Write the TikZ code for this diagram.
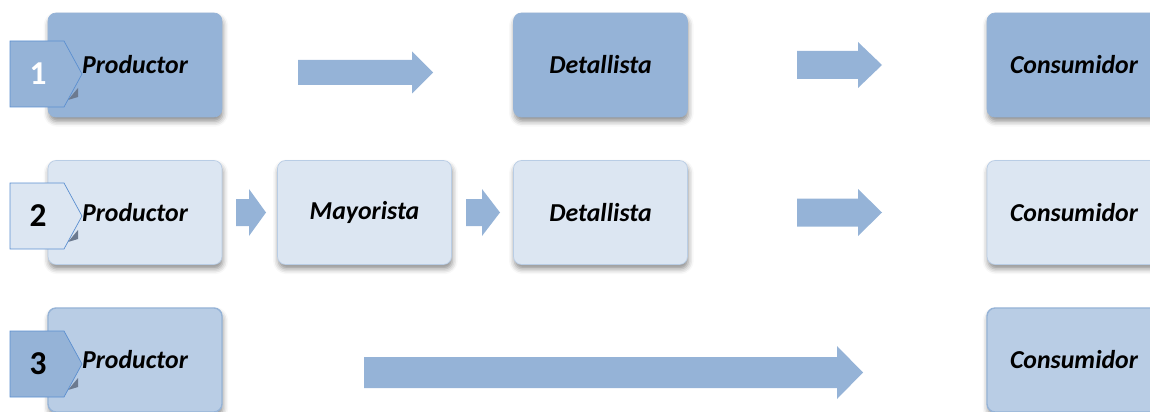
\documentclass[tikz,border=0pt]{standalone}
\usepackage{fontspec}
\setmainfont{Carlito}
\usetikzlibrary{shadows.blur}

\definecolor{boxdark}{HTML}{95B3D7}
\definecolor{boxmid}{HTML}{B9CDE5}
\definecolor{boxlight}{HTML}{DCE6F2}
\definecolor{tagline}{HTML}{5B8FD0}
\definecolor{foldgray}{HTML}{6C7A8F}

\tikzset{
	box/.style={rounded corners=0.16cm,minimum width=3.48cm,minimum height=2.08cm,
		font=\fontsize{14.7}{17}\selectfont\bfseries\itshape,
		blur shadow={shadow xshift=0.5pt,shadow yshift=-2.5pt,shadow blur radius=3pt,shadow opacity=45}},
	tagnum/.style={font=\fontsize{19}{22}\selectfont\bfseries}
}

% block arrow: from x #1 to tip x #2, centre y #3, body half #4, head start x #5, head half #6
\newcommand\blockarrow[6]{\fill[boxdark] (#1,#3-#4) -- (#5,#3-#4) -- (#5,#3-#6) -- (#2,#3) -- (#5,#3+#6) -- (#5,#3+#4) -- (#1,#3+#4) -- cycle;}

\begin{document}
\begin{tikzpicture}[x=0.02cm,y=-0.02cm]
		\useasboundingbox (0,0) rectangle (1150,412);
		\node[box,fill=boxdark,draw=boxdark] (prod1) at (135,65) {Productor};
		\node[box,fill=boxdark,draw=boxdark] (det1) at (600.5,65) {Detallista};
		\node[box,fill=boxdark,draw=boxdark] (cons1) at (1074,65) {Consumidor};
		\node[box,fill=boxlight,draw=boxmid] (prod2) at (135,212.5) {Productor};
		\node[box,fill=boxlight,draw=boxmid] (may2) at (364.5,212.5) {Mayorista};
		\node[box,fill=boxlight,draw=boxmid] (det2) at (600.5,212.5) {Detallista};
		\node[box,fill=boxlight,draw=boxmid] (cons2) at (1074,212.5) {Consumidor};
		\node[box,fill=boxmid,draw=boxdark,line width=0.8pt] (prod3) at (135,360) {Productor};
		\node[box,fill=boxmid,draw=boxdark,line width=0.8pt] (cons3) at (1074,360) {Consumidor};
		\blockarrow{298}{433}{72.5}{12.5}{412}{21}
		\blockarrow{797}{882}{65}{14}{858}{23}
		\blockarrow{236}{266}{212.5}{13.5}{249}{23.5}
		\blockarrow{466}{500}{212.5}{13.5}{482}{23.5}
		\blockarrow{797}{882}{212.5}{14}{858}{23.5}
		\blockarrow{364}{863}{372.5}{15.5}{837}{26.5}
		\foreach \n/\y/\c/\t in {1/74/boxdark/white,2/216/boxlight/black,3/364/boxdark/black}{
			\fill[foldgray] (78,\y+14) -- (68,\y+26) -- (78,\y+23) -- cycle;
			\draw[tagline,fill=\c] (10,\y-33) -- (64,\y-33) -- (82,\y) -- (64,\y+33) -- (10,\y+33) -- cycle;
			\node[tagnum,text=\t] (tag\n) at (38,\y) {\n};
		}
		\end{tikzpicture}
\end{document}
